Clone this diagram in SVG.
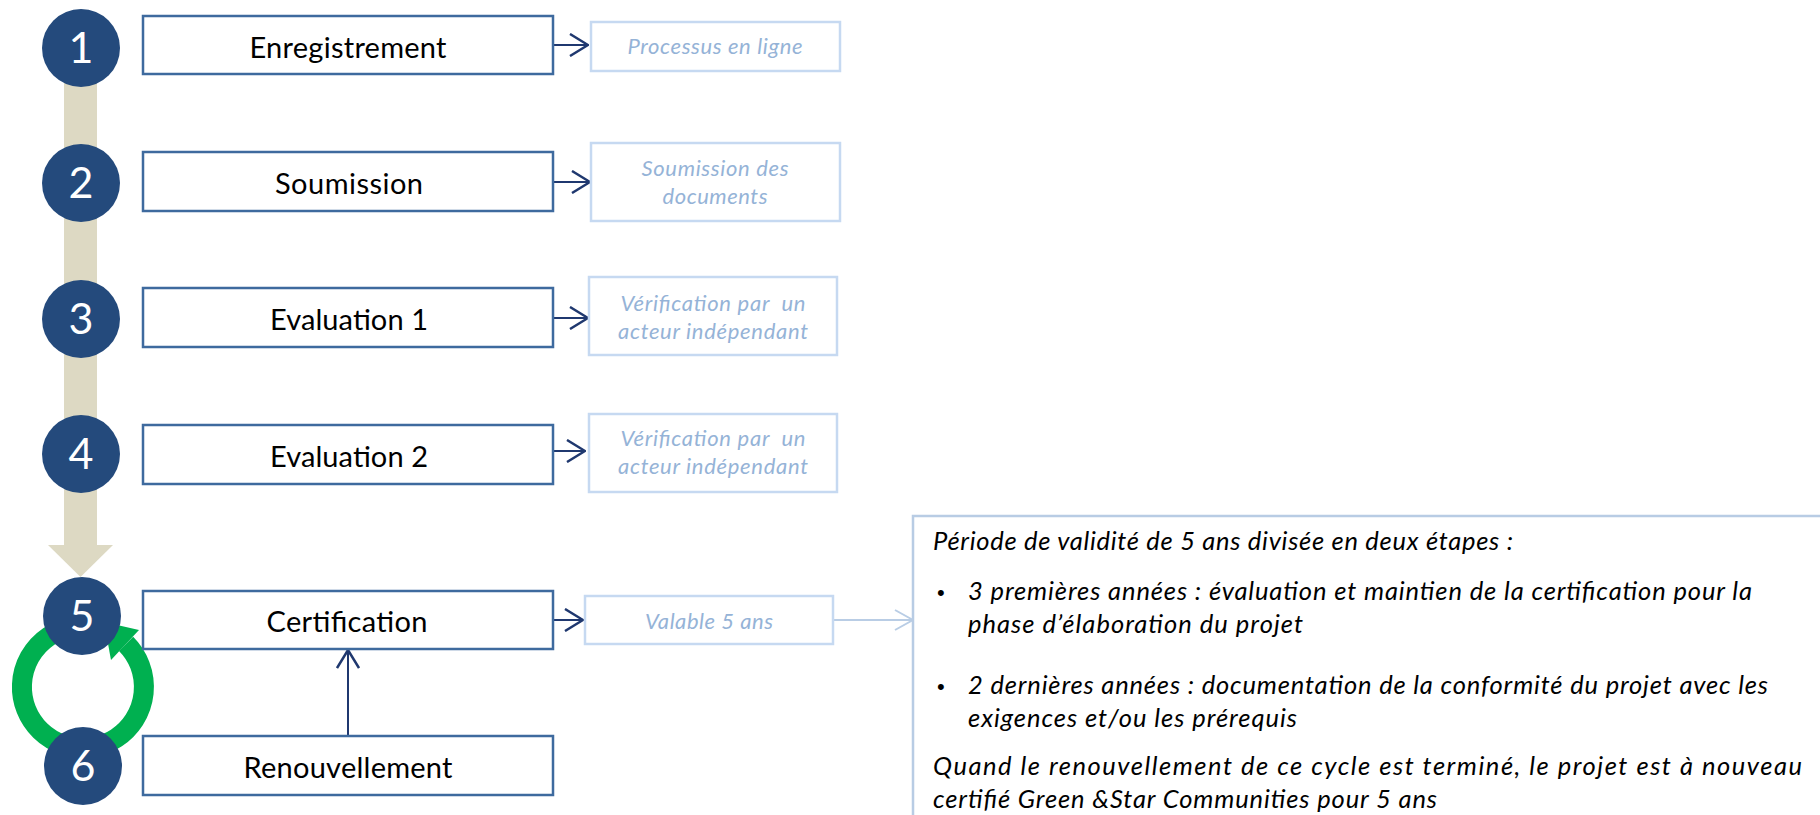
<svg xmlns="http://www.w3.org/2000/svg" width="1820" height="815" viewBox="0 0 1820 815">
<defs>
<style>
.bg{fill:#ffffff}
.bar{fill:#DDD9C3}
.num{fill:#244A7C}
.numt{fill:#ffffff;font-family:Lato,"Open Sans","DejaVu Sans",sans-serif;font-size:43px;text-anchor:middle}
.box{fill:#ffffff;stroke:#3E6A9E;stroke-width:2.5}
.boxt{fill:#000000;font-family:Lato,"Open Sans","DejaVu Sans",sans-serif;font-size:29px;text-anchor:middle}
.lbox{fill:#ffffff;stroke:#C6D9F1;stroke-width:2.5}
.lboxt{fill:#95B3D7;font-family:Lato,"Open Sans","DejaVu Sans",sans-serif;font-size:22px;font-style:italic;text-anchor:middle;white-space:pre}
.para{fill:#ffffff;stroke:#B8CCE4;stroke-width:2.5}
.pt{fill:#000000;font-family:Lato,"Open Sans","DejaVu Sans",sans-serif;font-size:25.5px;font-style:italic}
.bul{fill:#000000;font-family:"Liberation Sans",Arial,sans-serif;font-size:22px}
.dark{fill:none;stroke:#1F386F;stroke-width:2}
.light{fill:none;stroke:#B9CDE5;stroke-width:2}
.ring{fill:none;stroke:#00B050;stroke-width:20}
</style>
<marker id="chevDark" viewBox="0 0 20 24" refX="19" refY="12" markerWidth="20" markerHeight="24" markerUnits="userSpaceOnUse" orient="auto">
<path d="M1,1 L19,12 L1,23" fill="none" stroke="#1F386F" stroke-width="2.5"/>
</marker>
<marker id="chevLight" viewBox="0 0 20 24" refX="19" refY="12" markerWidth="20" markerHeight="24" markerUnits="userSpaceOnUse" orient="auto">
<path d="M1,2 L19,12 L1,22" fill="none" stroke="#B9CDE5" stroke-width="2"/>
</marker>
</defs>
<rect class="bg" x="0" y="0" width="1820" height="815"/>

<g id="timeline">
<rect class="bar" x="64" y="48" width="33" height="498"/>
<polygon class="bar" points="48,545 113,545 80.5,577"/>
</g>

<g id="cycle">
<path class="ring" d="M126.1,643.9 A61,61 0 1 1 72.4,626.9"/>
<polygon fill="#00B050" points="111,660 139,630 104,622"/>
</g>

<g id="connectors">
<path class="dark" d="M553,45 H588" marker-end="url(#chevDark)"/>
<path class="dark" d="M553,182 H590" marker-end="url(#chevDark)"/>
<path class="dark" d="M553,318 H588" marker-end="url(#chevDark)"/>
<path class="dark" d="M553,451 H585" marker-end="url(#chevDark)"/>
<path class="dark" d="M553,620 H583" marker-end="url(#chevDark)"/>
<path class="dark" d="M348,736 V650" marker-end="url(#chevDark)"/>
<path class="light" d="M833,620 H913" marker-end="url(#chevLight)"/>
</g>

<g id="step1">
<circle class="num" cx="81" cy="48" r="39"/>
<text class="numt" x="81" y="63">1</text>
<rect class="box" x="143" y="16" width="410" height="58"/>
<text class="boxt" x="348" y="58" textLength="197" lengthAdjust="spacing">Enregistrement</text>
</g>
<g id="step2">
<circle class="num" cx="81" cy="183" r="39"/>
<text class="numt" x="81" y="198">2</text>
<rect class="box" x="143" y="152" width="410" height="59"/>
<text class="boxt" x="349" y="194" textLength="148" lengthAdjust="spacing">Soumission</text>
</g>
<g id="step3">
<circle class="num" cx="81" cy="319" r="39"/>
<text class="numt" x="81" y="334">3</text>
<rect class="box" x="143" y="288" width="410" height="59"/>
<text class="boxt" x="349" y="330" textLength="158" lengthAdjust="spacing">Evaluation 1</text>
</g>
<g id="step4">
<circle class="num" cx="81" cy="454" r="39"/>
<text class="numt" x="81" y="469">4</text>
<rect class="box" x="143" y="425" width="410" height="59"/>
<text class="boxt" x="349" y="467" textLength="158" lengthAdjust="spacing">Evaluation 2</text>
</g>
<g id="step5">
<circle class="num" cx="82" cy="616" r="39"/>
<text class="numt" x="82" y="631">5</text>
<rect class="box" x="143" y="591" width="410" height="58"/>
<text class="boxt" x="347" y="632" textLength="161" lengthAdjust="spacing">Certification</text>
</g>
<g id="step6">
<circle class="num" cx="83" cy="766" r="39"/>
<text class="numt" x="83" y="781">6</text>
<rect class="box" x="143" y="736" width="410" height="59"/>
<text class="boxt" x="348" y="778" textLength="209" lengthAdjust="spacing">Renouvellement</text>
</g>

<g id="note1">
<rect class="lbox" x="591" y="22" width="249" height="49"/>
<text class="lboxt" x="715" y="54" textLength="175" lengthAdjust="spacing">Processus en ligne</text>
</g>
<g id="note2">
<rect class="lbox" x="591" y="143" width="249" height="78"/>
<text class="lboxt" x="715" y="176" textLength="147" lengthAdjust="spacing">Soumission des</text>
<text class="lboxt" x="715" y="204" textLength="105" lengthAdjust="spacing">documents</text>
</g>
<g id="note3">
<rect class="lbox" x="589" y="277" width="248" height="78"/>
<text class="lboxt" x="713" y="311" textLength="185" lengthAdjust="spacing">Vérification par  un</text>
<text class="lboxt" x="713" y="339" textLength="190" lengthAdjust="spacing">acteur indépendant</text>
</g>
<g id="note4">
<rect class="lbox" x="589" y="414" width="248" height="78"/>
<text class="lboxt" x="713" y="446" textLength="185" lengthAdjust="spacing">Vérification par  un</text>
<text class="lboxt" x="713" y="474" textLength="190" lengthAdjust="spacing">acteur indépendant</text>
</g>
<g id="note5">
<rect class="lbox" x="585" y="596" width="248" height="48"/>
<text class="lboxt" x="709" y="629" textLength="128" lengthAdjust="spacing">Valable 5 ans</text>
</g>

<g id="details">
<rect class="para" x="913" y="516" width="930" height="330"/>
<text class="pt" x="933" y="550" textLength="580" lengthAdjust="spacing">Période de validité de 5 ans divisée en deux étapes :</text>
<text class="bul" x="937" y="600">•</text>
<text class="pt" x="968" y="600" textLength="784" lengthAdjust="spacing">3 premières années : évaluation et maintien de la certification pour la</text>
<text class="pt" x="968" y="633" textLength="335" lengthAdjust="spacing">phase d’élaboration du projet</text>
<text class="bul" x="937" y="694">•</text>
<text class="pt" x="968" y="694" textLength="800" lengthAdjust="spacing">2 dernières années : documentation de la conformité du projet avec les</text>
<text class="pt" x="968" y="727" textLength="329" lengthAdjust="spacing">exigences et/ou les prérequis</text>
<text class="pt" x="933" y="775" textLength="869" lengthAdjust="spacing">Quand le renouvellement de ce cycle est terminé, le projet est à nouveau</text>
<text class="pt" x="933" y="808" textLength="504" lengthAdjust="spacing">certifié Green &amp;Star Communities pour 5 ans</text>
</g>
</svg>
